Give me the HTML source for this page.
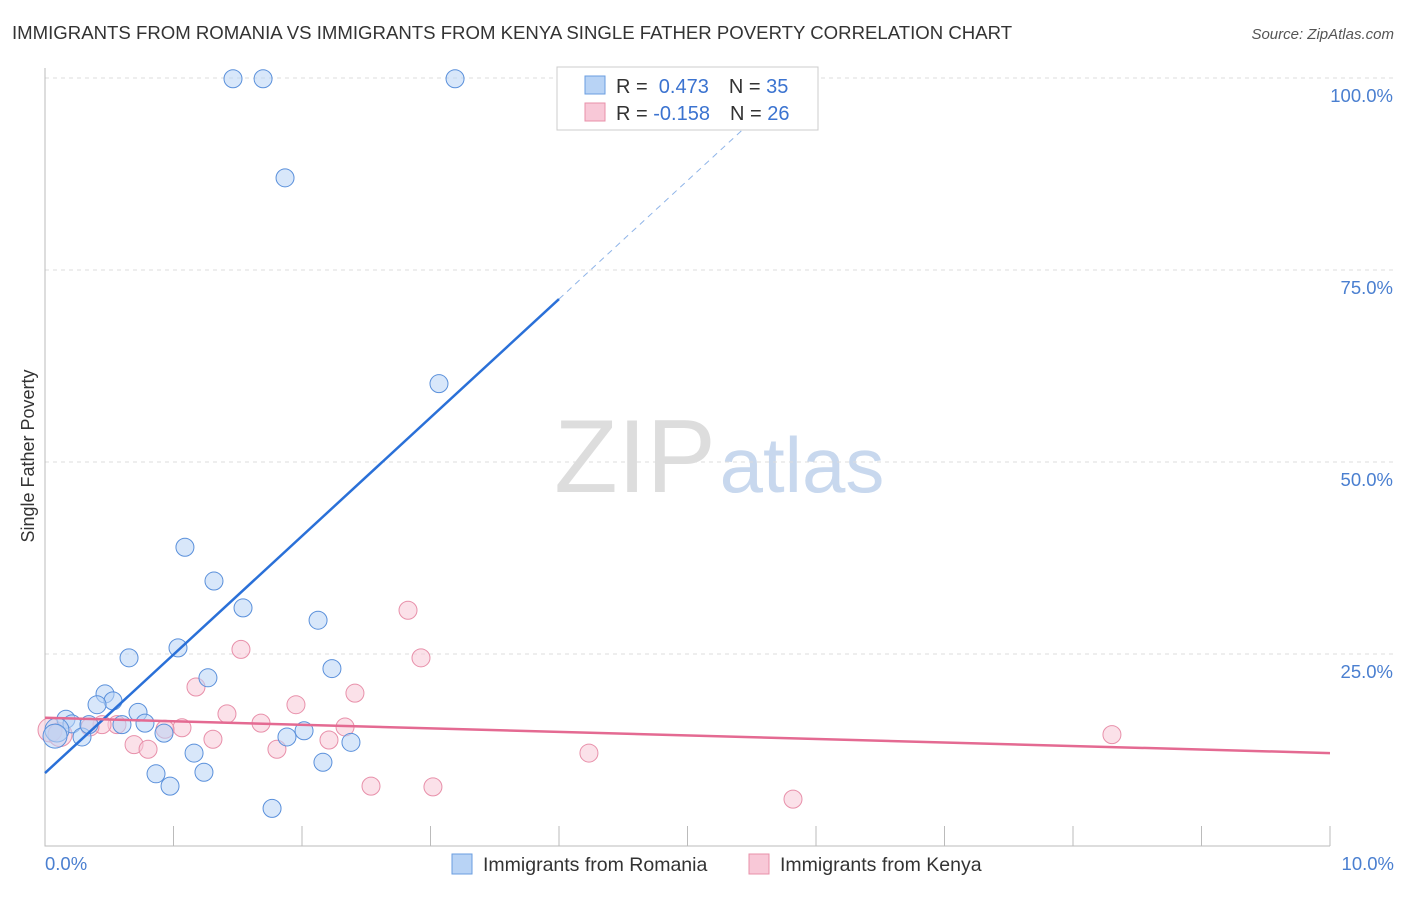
<!DOCTYPE html>
<html><head><meta charset="utf-8"><style>
body{margin:0;background:#fff;font-family:"Liberation Sans",sans-serif}
svg text{font-family:"Liberation Sans",sans-serif}
</style></head><body>
<svg id="c" width="1406" height="892">
<text x="12" y="39" font-size="18.6" fill="#333">IMMIGRANTS FROM ROMANIA VS IMMIGRANTS FROM KENYA SINGLE FATHER POVERTY CORRELATION CHART</text>
<text x="1394" y="39" font-size="15" fill="#555" font-style="italic" text-anchor="end">Source: ZipAtlas.com</text>
<text x="0" y="0" transform="translate(34,456) rotate(-90)" font-size="18" fill="#333" text-anchor="middle">Single Father Poverty</text>
<g><text x="635" y="492" font-size="104" fill="#ddd" font-family="Liberation Serif" text-anchor="middle">ZIP</text><text x="802" y="492" font-size="78" fill="#c8d8ee" text-anchor="middle">atlas</text></g>
<g id="grid"></g><g id="marks"></g>
<g>
<rect x="557" y="67" width="261" height="63" fill="#fff" stroke="#ccc"/>
<rect x="585" y="76" width="20" height="18" fill="#b8d3f5" stroke="#6a9ee0"/>
<rect x="585" y="103" width="20" height="18" fill="#f8c8d7" stroke="#e890aa"/>
<text x="616" y="93" font-size="20" fill="#333">R = <tspan fill="#3b73d0">&#160;0.473</tspan><tspan dx="20">N = </tspan><tspan fill="#3b73d0">35</tspan></text>
<text x="616" y="120" font-size="20" fill="#333">R = <tspan fill="#3b73d0">-0.158</tspan><tspan dx="20">N = </tspan><tspan fill="#3b73d0">26</tspan></text>
</g>
<g>
<rect x="452" y="854" width="20" height="20" fill="#b8d3f5" stroke="#6a9ee0"/>
<text x="483" y="871" font-size="19.5" fill="#333">Immigrants from Romania</text>
<rect x="749" y="854" width="20" height="20" fill="#f8c8d7" stroke="#e890aa"/>
<text x="780" y="871" font-size="19.5" fill="#333">Immigrants from Kenya</text>
</g>
</svg>
<script>
const yTicks=[25,50,75,100];
const yTickLabels=["25.0%","50.0%","75.0%","100.0%"];
const xTickLabels=["0.0%","10.0%"];
const romaniaX=[1.463,1.697,3.191,1.868,3.066,1.089,1.315,1.541,2.125,1.035,0.654,2.233,1.268,0.467,0.529,0.405,0.724,0.163,0.210,0.778,0.599,0.093,0.288,0.926,2.016,1.883,2.381,0.078,1.160,0.864,2.163,1.237,0.973,1.767,0.342];
const romaniaY=[99.9,99.9,99.9,87.0,60.2,38.9,34.5,31.0,29.4,25.8,24.5,23.1,21.9,19.8,18.9,18.4,17.4,16.5,15.9,16.0,15.8,15.1,14.2,14.7,15.0,14.2,13.5,14.3,12.1,9.4,10.9,9.6,7.8,4.9,15.8];
const kenyaX=[2.825,2.926,1.525,1.175,2.412,1.953,1.416,1.681,1.066,2.335,0.560,0.444,0.693,0.802,1.307,1.805,2.210,4.233,2.537,3.019,5.821,8.303,0.039,0.117,0.350,0.934];
const kenyaY=[30.7,24.5,25.6,20.7,19.9,18.4,17.2,16.0,15.4,15.5,15.8,15.8,13.2,12.6,13.9,12.6,13.8,12.1,7.8,7.7,6.1,14.5,15.1,14.5,15.5,15.2];
const romaniaTrend=[9.5,15.43];
const kenyaTrend=[16.7,-0.46];
const NS="http://www.w3.org/2000/svg";
const sx=v=>45+v/10*1285, sy=v=>846-v/25*192;
function mk(p,t,a){const e=document.createElementNS(NS,t);for(const k in a)e.setAttribute(k,a[k]);p.appendChild(e);return e;}
const g=document.getElementById('grid'),m=document.getElementById('marks');
yTicks.forEach((t,i)=>{const l=mk(g,'line',{x1:45,x2:1394,y1:sy(t),y2:sy(t),stroke:'#ddd','stroke-dasharray':'4,4'});


const tx=mk(g,'text',{x:1393,y:sy(t)+24,'font-size':18.5,fill:'#4a7fd0','text-anchor':'end'});tx.textContent=yTickLabels[i];

});
const ax=mk(g,'path',{d:'M45 68V846H1330',stroke:'#bbb',fill:'none'});


for(let i=1;i<=10;i++){const t=mk(g,'line',{x1:sx(i),x2:sx(i),y1:826,y2:846,stroke:'#bbb'});

}
[[0,'start',45],[10,'end',1394]].forEach((d,i)=>{const t=mk(g,'text',{x:d[2],y:870,'font-size':18.5,fill:'#4a7fd0','text-anchor':d[1]});t.textContent=xTickLabels[i];

});
function dots(X,Y,f,s,n){X.forEach((x,i)=>{const big=x<0.12;const c=mk(m,'circle',{cx:sx(x),cy:sy(Y[i]),r:big?12:9,fill:f,stroke:s,'fill-opacity':0.55});

});}
dots(kenyaX,kenyaY,'#f8c8d7','#e890aa','kenya-point');
dots(romaniaX,romaniaY,'#b8d3f5','#5a90db','romania-point');
const f=(tr,x)=>tr[0]+tr[1]*x;
let l=mk(m,'line',{x1:sx(0),y1:sy(f(romaniaTrend,0)),x2:sx(4.0),y2:sy(f(romaniaTrend,4.0)),stroke:'#2a70d8','stroke-width':2.5});


l=mk(m,'line',{x1:sx(4.0),y1:sy(f(romaniaTrend,4.0)),x2:sx(5.56),y2:sy(f(romaniaTrend,5.56)),stroke:'#8fb4e8','stroke-width':1,'stroke-dasharray':'6,5'});


l=mk(m,'line',{x1:sx(0),y1:sy(f(kenyaTrend,0)),x2:sx(10),y2:sy(f(kenyaTrend,10)),stroke:'#e46a92','stroke-width':2.5});


</script>
</body></html>
